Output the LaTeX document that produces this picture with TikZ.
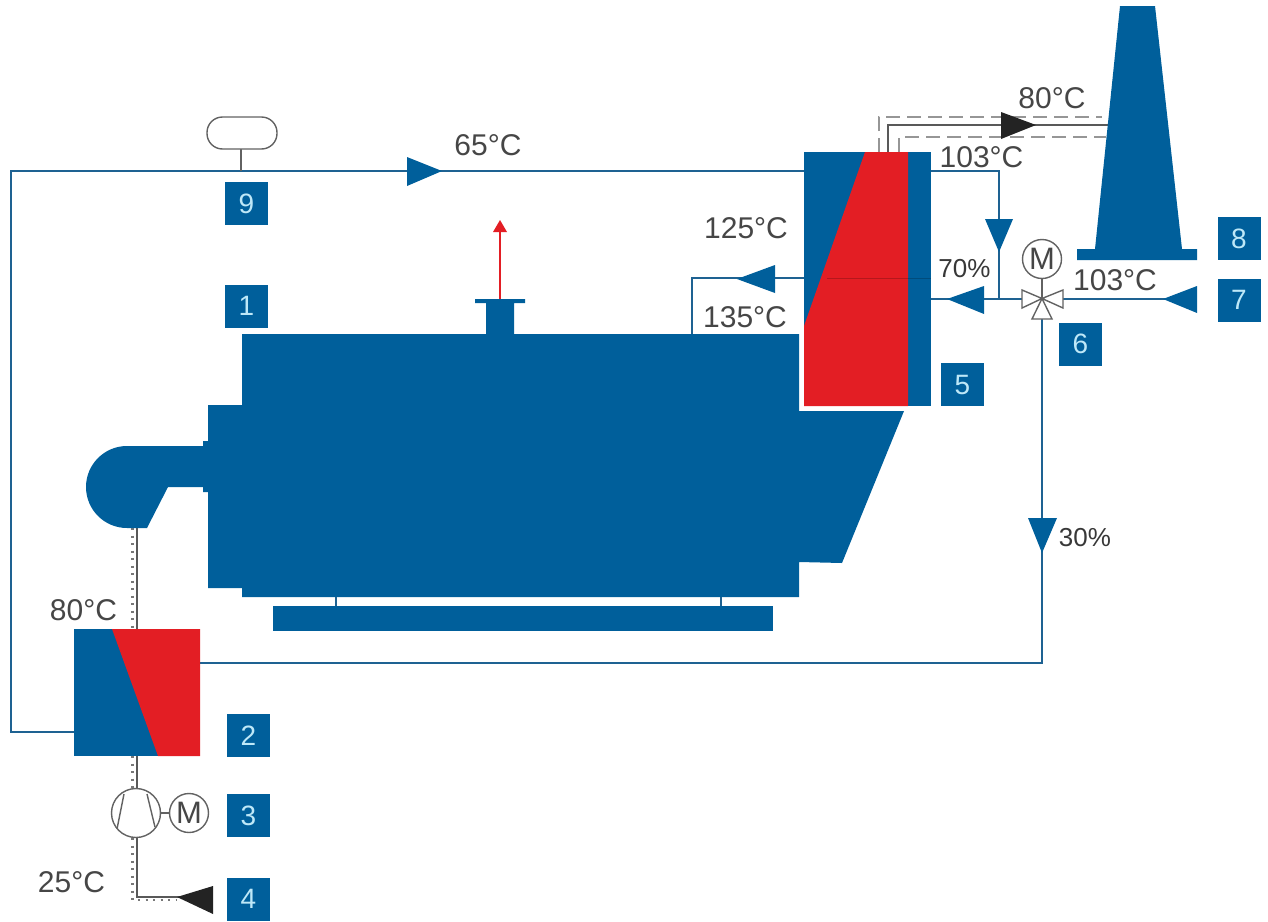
\documentclass[tikz,border=0pt]{standalone}
\usepackage{fontspec}
\setmainfont{Liberation Sans}
\definecolor{bblue}{RGB}{0,95,155}
\definecolor{bred}{RGB}{227,30,36}
\definecolor{pipeblue}{RGB}{30,98,146}
\definecolor{graytxt}{RGB}{70,70,70}
\definecolor{dashgray}{RGB}{150,150,150}
\definecolor{numtxt}{RGB}{190,232,248}
\definecolor{arrowblack}{RGB}{35,35,35}
\tikzset{
  numbox/.style={fill=bblue,minimum width=43pt,minimum height=43pt,inner sep=0pt,text=numtxt,font=\fontsize{28}{28}\selectfont},
  templabel/.style={inner sep=0pt,text=graytxt,font=\fontsize{30}{30}\selectfont},
  pctlabel/.style={inner sep=0pt,text=graytxt!80!black,font=\fontsize{26}{26}\selectfont},
  pipe/.style={draw=pipeblue,line width=2pt},
  airpipe/.style={draw=graytxt!90,line width=2pt},
  dotpipe/.style={draw=dashgray!80!black,line width=2.2pt,dash pattern=on 2pt off 5.5pt},
  dashpipe/.style={draw=dashgray,line width=1.8pt,dash pattern=on 14pt off 7pt},
  thin gray/.style={draw=graytxt!85,line width=1.4pt},
  motor/.style={circle,draw=graytxt!85,line width=1.4pt,fill=white,minimum size=39pt,inner sep=0pt,text=graytxt,font=\fontsize{31}{31}\selectfont},
}
\begin{document}
\begin{tikzpicture}[x=1pt,y=-1pt]
\useasboundingbox (0,0) rectangle (1268,921);
% named points of the connectors
\coordinate (ecoIn) at (804,171);
\coordinate (ecoOutTop) at (931,171);
\coordinate (ecoMidL) at (804,278);
\coordinate (ecoInLow) at (931,298.5);
\coordinate (corner1) at (11,171);
\coordinate (corner2) at (11,732);
\coordinate (ex2L) at (74,732);
\coordinate (ex2R) at (200,663);
\coordinate (corner3) at (1042,663);
\coordinate (valve) at (1042,298.5);
\coordinate (valveIn) at (1180,298.5);
\coordinate (junction) at (999,298.5);
\coordinate (corner4) at (999,171);
\coordinate (corner5) at (692,278);
\coordinate (boilerTop) at (692,334);
\coordinate (tankBase) at (241,171);
\coordinate (fanOut) at (137,528);
\coordinate (ex2Top) at (137,629);
\coordinate (ex2Bot) at (137,756);
\coordinate (pumpC) at (136,813);
\coordinate (corner6) at (137,897);
\coordinate (airIn) at (195,897);
\coordinate (stackA) at (888,152);
\coordinate (stackB) at (888,125);
\coordinate (stackC) at (1108,125);
% water pipes
\draw[pipe] (ex2L) -- (corner2) -- (corner1) -- (ecoIn);
\draw[pipe] (ex2R) -- (corner3) -- (valve);
\draw[pipe] (ecoOutTop) -- (corner4) -- (junction);
\draw[pipe] (ecoInLow) -- (valveIn);
\draw[pipe] (ecoMidL) -- (corner5) -- (boilerTop);
% air pipes
\draw[dotpipe] (132.5,528) -- (132.5,629);
\draw[dotpipe] (132.5,756) -- (132.5,790);
\draw[dotpipe] (132.5,838) -- (132.5,900) -- (177,900);
\draw[airpipe] (fanOut) -- (ex2Top);
\draw[airpipe] (ex2Bot) -- (137,790);
\draw[airpipe] (137,838) -- (corner6) -- (airIn);
% flue pipes
\draw[dashpipe] (879,152) -- (879,117) -- (1102,117);
\draw[dashpipe] (899,152) -- (899,137) -- (1106,137);
\draw[airpipe,line width=1.6pt] (stackA) -- (stackB) -- (stackC);
% tank
\draw[thin gray] (tankBase) -- (241,149);
\node[draw=graytxt!85,line width=1.4pt,fill=white,rounded corners=15.5pt,minimum width=70pt,minimum height=32pt,inner sep=0pt] (tank) at (242,133) {};
% boiler
\fill[bblue] (242,334) -- (486,334) -- (486,303) -- (475,303) -- (475,299) -- (525,299) -- (525,303) -- (514,303) -- (514,334)
  -- (799,334) -- (799,411) -- (904,411) -- (842,563) -- (799,562) -- (799,597) -- (242,597) -- (242,588) -- (208,588)
  -- (208,492) -- (203,492) -- (203,487) -- (168,487) -- (147,528) -- (127,528)
  arc[start angle=270,end angle=90,radius=41pt] -- (203,446) -- (203,441) -- (208,441) -- (208,405) -- (242,405) -- cycle;
\draw[pipeblue,line width=1.7pt] (336,597) -- (336,606);
\draw[pipeblue,line width=1.7pt] (721,597) -- (721,606);
\fill[bblue] (273,606) rectangle (773,631);
% exhaust arrow
\draw[bred,line width=1.7pt] (500,299) -- (500,230);
\fill[bred] (500,220) -- (507,232) -- (493,232) -- cycle;
% economiser
\fill[bblue] (804,152) rectangle (931,406);
\fill[bred] (865,152) -- (908,152) -- (908,406) -- (804,406) -- (804,326) -- cycle;
\draw[bred!75!black,line width=1pt,opacity=.8] (827,278) -- (908,278);
\draw[bblue!80!black,line width=1pt] (908,278) -- (931,278);
% heat exchanger 2
\fill[bblue] (74,629) rectangle (200,756);
\fill[bred] (112,629) -- (200,629) -- (200,756) -- (158,756) -- cycle;
% chimney
\fill[bblue] (1120,6) -- (1155,6) -- (1182,249) -- (1197,249) -- (1197,260) -- (1077,260) -- (1077,249) -- (1095,249) -- cycle;
% flow arrows
\fill[bblue] (442,171) -- (407,157) -- (407,186) -- cycle;
\fill[bblue] (737,279) -- (775,265) -- (775,293) -- cycle;
\fill[bblue] (999,252) -- (985,219) -- (1013,219) -- cycle;
\fill[bblue] (947,299) -- (984,286) -- (984,314) -- cycle;
\fill[bblue] (1163,299) -- (1197,286) -- (1197,313) -- cycle;
\fill[bblue] (1042,553) -- (1028,518) -- (1057,518) -- cycle;
\fill[arrowblack] (1036,125) -- (1001,112) -- (1001,139) -- cycle;
\fill[arrowblack] (177,897) -- (213,886) -- (213,914) -- cycle;
% three-way valve with motor
\draw[thin gray] (valve) -- (1042,270);
\filldraw[thin gray,fill=white] (valve) -- (1022,290) -- (1022,308) -- cycle;
\filldraw[thin gray,fill=white] (valve) -- (1063,290) -- (1063,308) -- cycle;
\filldraw[thin gray,fill=white] (valve) -- (1032,319) -- (1052,319) -- cycle;
\node[motor] (valveM) at (1042,259) {M};
% pump and motor
\node[circle,draw=graytxt!85,line width=1.4pt,fill=white,minimum size=49pt,inner sep=0pt] (pump) at (pumpC) {};
\draw[thin gray] (124,794) -- (117,829);
\draw[thin gray] (147,794) -- (155,827);
\node[motor] (pumpM) at (189,813) {M};
\draw[thin gray] (pump) -- (pumpM);
% number boxes
\node[numbox] (n1) at (246.5,306) {1};
\node[numbox] (n2) at (248.5,735.5) {2};
\node[numbox] (n3) at (248.5,815.5) {3};
\node[numbox] (n4) at (248.5,899) {4};
\node[numbox] (n5) at (962.5,384.5) {5};
\node[numbox] (n6) at (1080.5,344) {6};
\node[numbox] (n7) at (1239,300) {7};
\node[numbox] (n8) at (1239,238.5) {8};
\node[numbox] (n9) at (246.5,203.5) {9};
% temperatures
\node[templabel] (t65) at (488,145) {65°C};
\node[templabel] (t80a) at (1052,98) {80°C};
\node[templabel] (t103a) at (981.5,157) {103°C};
\node[templabel] (t125) at (746,228) {125°C};
\node[templabel] (t135) at (745,317) {135°C};
\node[templabel] (t103b) at (1115,280) {103°C};
\node[templabel] (t80b) at (83.5,610) {80°C};
\node[templabel] (t25) at (71.5,882) {25°C};
\node[pctlabel] (p70) at (964.5,269) {70\%};
\node[pctlabel] (p30) at (1085,538) {30\%};
\end{tikzpicture}
\end{document}
